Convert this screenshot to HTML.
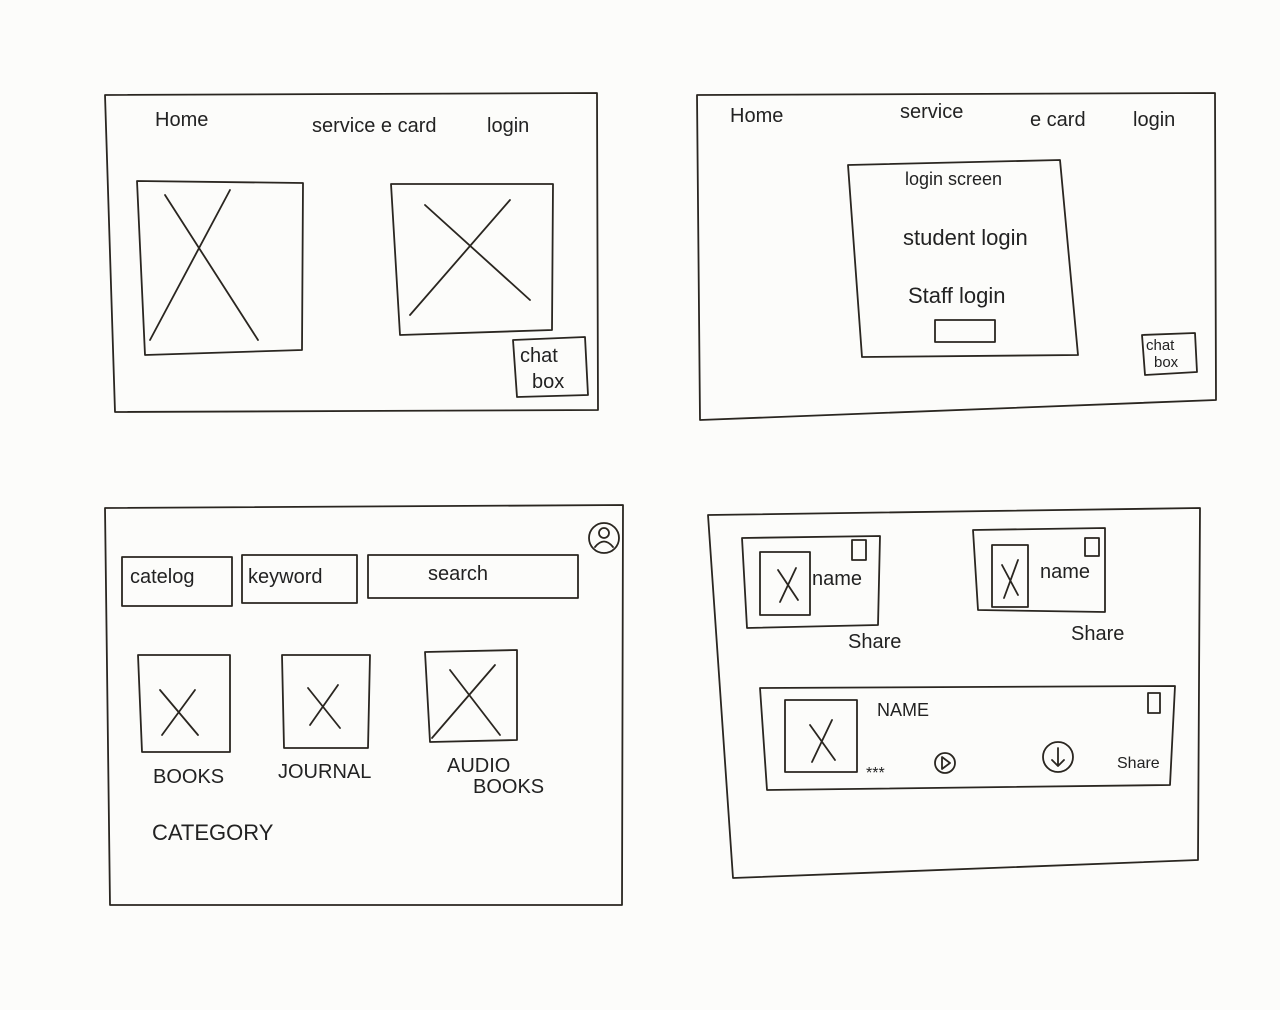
<!DOCTYPE html>
<html><head><meta charset="utf-8"><style>
html,body{margin:0;padding:0;background:#fcfcfa;}
svg{display:block}
text{font-family:"Liberation Sans",sans-serif;fill:#222;}
</style></head><body>
<svg width="1280" height="1010" viewBox="0 0 1280 1010" xmlns="http://www.w3.org/2000/svg">
<rect width="1280" height="1010" fill="#fcfcfa"/>
<g fill="none" stroke="#2a2620" stroke-width="1.8" stroke-linecap="round" stroke-linejoin="round">
<!-- frame 1 -->
<polygon points="105,95 597,93 598,410 115,412"/>
<polygon points="137,181 303,183 302,350 145,355"/>
<path d="M165,195 L258,340 M230,190 L150,340"/>
<polygon points="391,184 553,184 552,330 400,335"/>
<path d="M425,205 L530,300 M510,200 L410,315"/>
<polygon points="513,340 585,337 588,395 517,397"/>
<!-- frame 2 -->
<polygon points="697,95 1215,93 1216,400 700,420"/>
<polygon points="848,165 1060,160 1078,355 862,357"/>
<rect x="935" y="320" width="60" height="22"/>
<polygon points="1142,335 1195,333 1197,372 1145,375"/>
<!-- frame 3 -->
<polygon points="105,508 623,505 622,905 110,905"/>
<circle cx="604" cy="538" r="15"/>
<circle cx="604" cy="533" r="5"/>
<path d="M595,547 Q604,536 613,547"/>
<rect x="122" y="557" width="110" height="49"/>
<rect x="242" y="555" width="115" height="48"/>
<rect x="368" y="555" width="210" height="43"/>
<polygon points="138,655 230,655 230,752 142,752"/>
<path d="M160,690 L198,735 M195,690 L162,735"/>
<polygon points="282,655 370,655 368,748 284,748"/>
<path d="M308,688 L340,728 M338,685 L310,725"/>
<polygon points="425,652 517,650 517,740 430,742"/>
<path d="M450,670 L500,735 M495,665 L432,738"/>
<!-- frame 4 -->
<polygon points="708,515 1200,508 1198,860 733,878"/>
<polygon points="742,538 880,536 878,625 747,628"/>
<rect x="760" y="552" width="50" height="63"/>
<path d="M778,570 L798,600 M796,568 L780,602"/>
<rect x="852" y="540" width="14" height="20"/>
<polygon points="973,530 1105,528 1105,612 978,610"/>
<rect x="992" y="545" width="36" height="62"/>
<path d="M1002,565 L1018,595 M1018,560 L1004,598"/>
<rect x="1085" y="538" width="14" height="18"/>
<polygon points="760,688 1175,686 1170,785 767,790"/>
<rect x="785" y="700" width="72" height="72"/>
<path d="M810,725 L835,760 M832,720 L812,762"/>
<rect x="1148" y="693" width="12" height="20"/>
<circle cx="945" cy="763" r="10"/>
<path d="M942,757 L950,763 L942,769 Z"/>
<circle cx="1058" cy="757" r="15"/>
<path d="M1058,748 L1058,765 M1052,760 L1058,766 L1064,760"/>
</g>
<g font-size="20">
<text x="155" y="126">Home</text>
<text x="312" y="132">service e card</text>
<text x="487" y="132">login</text>
<text x="730" y="122">Home</text>
<text x="900" y="118">service</text>
<text x="1030" y="126">e card</text>
<text x="1133" y="126">login</text>
<text x="905" y="185" font-size="18">login screen</text>
<text x="903" y="245" font-size="22">student login</text>
<text x="908" y="303" font-size="22">Staff login</text>
<text x="520" y="362" font-size="20">chat</text>
<text x="532" y="388" font-size="20">box</text>
<text x="1146" y="350" font-size="15">chat</text>
<text x="1154" y="367" font-size="15">box</text>
<text x="130" y="583" font-size="20">catelog</text>
<text x="248" y="583" font-size="20">keyword</text>
<text x="428" y="580" font-size="20">search</text>
<text x="153" y="783" font-size="20">BOOKS</text>
<text x="278" y="778" font-size="20">JOURNAL</text>
<text x="447" y="772" font-size="20">AUDIO</text>
<text x="473" y="793" font-size="20">BOOKS</text>
<text x="152" y="840" font-size="22">CATEGORY</text>
<text x="812" y="585" font-size="20">name</text>
<text x="1040" y="578" font-size="20">name</text>
<text x="848" y="648" font-size="20">Share</text>
<text x="1071" y="640" font-size="20">Share</text>
<text x="877" y="716" font-size="18">NAME</text>
<text x="866" y="778" font-size="16">***</text>
<text x="1117" y="768" font-size="16">Share</text>
</g>
</svg>
</body></html>
